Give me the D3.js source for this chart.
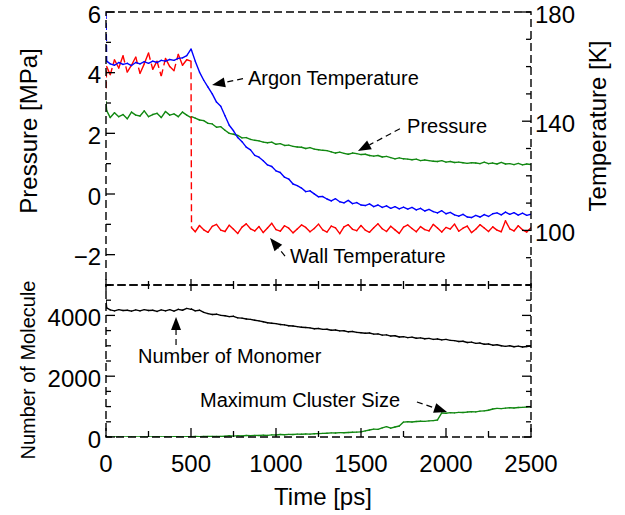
<!DOCTYPE html>
<html>
<head>
<meta charset="utf-8">
<script src="https://cdn.jsdelivr.net/npm/d3@7"></script>
<style>
    body { margin: 0; background: #fff; }
    svg text { font-family: "Liberation Sans", Arial, sans-serif; fill: #000; }
</style>
</head>
<body>
<svg id="chart" width="625" height="515"></svg>
<script>
// time axis [ps]; two extra samples catch the fast jumps at 0 and 500 ps
const timePs = [0, 4, ...d3.range(25, 501, 25), 503, ...d3.range(525, 2501, 25)];

// argon temperature [K] (right axis)
const argonTempK = [180, 162,
    161, 160.5, 161.5, 160.8, 161.2, 160.4, 161.5, 161, 161.8, 161.2,
    162, 161.5, 162.3, 162, 162.6, 162.3, 163, 163.2, 164, 166.4,
    166,
    162, 158, 155, 152.5, 150, 147, 145.5, 142, 138.5, 136.5,
    134, 132.5, 130.5, 129.5, 127.5, 126.8, 125.5, 124, 123.4, 121.8,
    121.2, 119.5, 118.8, 117, 116.4, 115.5, 114.2, 114.5, 113.4, 112.3,
    112.4, 111.5, 110.8, 111.6, 110.5, 110.1, 111, 109.8, 110.2, 109.3,
    109.1, 109.7, 108.7, 109.3, 108.4, 109, 108.1, 108.7, 107.9, 108.5,
    107.8, 108.4, 107.5, 108.1, 107.1, 107.7, 106.9, 106.4, 107.2, 106.1,
    106.6, 105.7, 105.2, 105.9, 104.9, 104.7, 105.5, 104.9, 105.8, 105.1,
    106.1, 106.4, 105.7, 106.7, 105.9, 106.5, 105.6, 106.3, 105.5, 105.9];

// wall temperature [K] (right axis)
const wallTempK = [152, 160,
    157, 162.5, 159.5, 164, 158, 160.5, 163.5, 157.5, 161, 165,
    159, 162, 156.5, 163, 160, 158.5, 164.5, 160.5, 162.5, 162,
    101,
    99.5, 101.8, 100.2, 99.3, 101.5, 102.2, 100.1, 99.6, 101.9, 100.4,
    98.9, 101.2, 102.4, 100.6, 99.8, 101.4, 99.2, 100.9, 102.6, 100.3,
    99.7, 101.7, 100.8, 99.1, 100.5, 102, 101.1, 99.5, 100.7, 102.3,
    100.2, 99.4, 101.6, 100.9, 98.8, 101.3, 102.1, 100.4, 99.9, 101.8,
    100.1, 99.3, 101, 102.4, 100.6, 99.6, 101.5, 100.2, 98.9, 101.2,
    102, 100.7, 99.5, 101.4, 100.3, 99.8, 102.2, 100.9, 99.4, 101.1,
    100.5, 102.3, 99.7, 100.8, 101.6, 99.2, 100.4, 102.1, 100.9, 99.6,
    101.3, 100.1, 99.5, 103.5, 100.6, 99.8, 101.7, 100.2, 99.4, 101];

// pressure [MPa] (left axis)
const pressureMPa = [3.05, 2.75,
    2.52, 2.68, 2.55, 2.62, 2.48, 2.7, 2.6, 2.57, 2.74, 2.55,
    2.62, 2.66, 2.52, 2.72, 2.6, 2.64, 2.55, 2.7, 2.6, 2.52,
    2.55,
    2.5, 2.44, 2.42, 2.33, 2.31, 2.2, 2.22, 2.1, 2.0, 1.97,
    1.93, 1.85, 1.86, 1.8, 1.77, 1.75, 1.71, 1.69, 1.71, 1.64,
    1.66, 1.6, 1.61, 1.57, 1.55, 1.54, 1.5, 1.53, 1.48, 1.46,
    1.44, 1.43, 1.39, 1.35, 1.38, 1.34, 1.31, 1.35, 1.33, 1.3,
    1.31, 1.27, 1.25, 1.27, 1.22, 1.24, 1.2, 1.16, 1.19, 1.16,
    1.15, 1.13, 1.15, 1.1, 1.12, 1.1, 1.08, 1.07, 1.1, 1.05,
    1.07, 1.04, 1.05, 1.03, 1.01, 1.03, 1.02, 1.0, 1.05, 1.0,
    1.02, 0.99, 1.04, 0.99, 1.0, 0.97, 1.01, 0.96, 0.99, 0.97];

// number of monomer (lower panel)
const monomerCount = [4500, 4250,
    4180, 4150, 4190, 4160, 4170, 4140, 4180, 4150, 4190, 4160,
    4170, 4130, 4180, 4150, 4190, 4140, 4200, 4170, 4230, 4200,
    4210,
    4150, 4170, 4100, 4060, 4030, 4040, 4000, 3990, 3960, 3970,
    3920, 3910, 3880, 3870, 3840, 3820, 3790, 3760, 3740, 3730,
    3700, 3690, 3660, 3650, 3630, 3610, 3600, 3590, 3560, 3570,
    3540, 3545, 3510, 3520, 3490, 3495, 3460, 3470, 3440, 3430,
    3415, 3420, 3385, 3390, 3350, 3360, 3320, 3330, 3290, 3300,
    3270, 3285, 3250, 3260, 3230, 3245, 3210, 3225, 3195, 3210,
    3180, 3170, 3140, 3150, 3110, 3120, 3080, 3090, 3050, 3060,
    3020, 3035, 3000, 2980, 3000, 2970, 2990, 2960, 2975, 2990];

// maximum cluster size (lower panel)
const maxClusterSize = [0, 0,
    0, 0, 5, 0, 5, 0, 5, 5, 0, 5,
    5, 10, 5, 10, 5, 10, 10, 5, 10, 10,
    10,
    15, 10, 15, 15, 20, 15, 20, 25, 40, 30,
    45, 35, 50, 45, 55, 50, 60, 55, 70, 65,
    80, 75, 85, 80, 95, 90, 100, 95, 105, 110,
    120, 125, 135, 130, 145, 140, 150, 155, 160, 170,
    200, 230, 260, 250, 300, 340, 290, 330, 360, 490,
    500, 495, 510, 520, 515, 530, 540, 560, 790, 780,
    800, 795, 810, 805, 820, 830, 825, 850, 860, 880,
    920, 940, 935, 950, 960, 955, 970, 975, 985, 990];

const timeTicks = [0, 500, 1000, 1500, 2000, 2500];
const pressureTicks = [-2, 0, 2, 4, 6];
const tempTicks = [100, 140, 180];
const moleculeTicks = [0, 2000, 4000];

// annotations: [label, text time, text value, tail time, tail value, tip time, tip value]
const topNotes = [
    ['Argon Temperature', 835, 153.3, 806, 155.6, 624, 153.3, 'temp'],
    ['Pressure', 1771, 2.02, 1729, 2.15, 1482, 1.42, 'press'],
    ['Wall Temperature', 1082, 88.1, 1053, 90.6, 965, 97.2, 'temp']
];
const bottomNotes = [
    ['Number of Monomer', 188, 2434, 412, 3030, 412, 3950],
    ['Maximum Cluster Size', 553, 987, 1829, 1150, 2006, 822]
];

const svg = d3.select('#chart');
const plotLeft = 106, plotRight = 531, plotTop = 12, plotMid = 285, plotBottom = 437;

const x = d3.scaleLinear().domain([0, 2500]).range([plotLeft, plotRight]);
const yPress = d3.scaleLinear().domain([-3, 6]).range([plotMid, plotTop]);
const yTemp = d3.scaleLinear().domain([80, 180]).range([plotMid, plotTop]);
const yMol = d3.scaleLinear().domain([0, 5000]).range([plotBottom, plotMid]);

const defs = svg.append('defs');
defs.append('clipPath').attr('id', 'clipTop')
    .append('rect').attr('x', plotLeft).attr('y', plotTop)
    .attr('width', plotRight - plotLeft).attr('height', plotMid - plotTop);
defs.append('clipPath').attr('id', 'clipBottom')
    .append('rect').attr('x', plotLeft).attr('y', plotMid)
    .attr('width', plotRight - plotLeft).attr('height', plotBottom - plotMid);

// each segment is its own stroke, so only the long jumps show the dash pattern
function drawSeries(g, values, yScale, color) {
    const pts = timePs.map((t, i) => [x(t), yScale(values[i])]);
    g.selectAll(null)
        .data(d3.pairs(pts))
        .join('line')
        .attr('x1', d => d[0][0]).attr('y1', d => d[0][1])
        .attr('x2', d => d[1][0]).attr('y2', d => d[1][1])
        .attr('stroke', color)
        .attr('stroke-width', 1.4)
        .each(function(d) {
            const len = Math.hypot(d[1][0] - d[0][0], d[1][1] - d[0][1]);
            const sel = d3.select(this);
            if (len > 14) sel.attr('stroke-dasharray', '7,4');
            else sel.attr('stroke-linecap', 'round');
        });
}

const gTop = svg.append('g').attr('clip-path', 'url(#clipTop)');
drawSeries(gTop, pressureMPa, yPress, '#118811');
drawSeries(gTop, wallTempK, yTemp, '#ff0000');
drawSeries(gTop, argonTempK, yTemp, '#0000ff');

const gBottom = svg.append('g').attr('clip-path', 'url(#clipBottom)');
drawSeries(gBottom, monomerCount, yMol, '#000000');
drawSeries(gBottom, maxClusterSize, yMol, '#118811');

// dashed frames
const frame = svg.append('g')
    .attr('fill', 'none')
    .attr('stroke', '#000')
    .attr('stroke-width', 1.4)
    .attr('stroke-dasharray', '8,4');
frame.append('rect').attr('x', plotLeft).attr('y', plotTop)
    .attr('width', plotRight - plotLeft).attr('height', plotMid - plotTop);
frame.append('rect').attr('x', plotLeft).attr('y', plotMid)
    .attr('width', plotRight - plotLeft).attr('height', plotBottom - plotMid);

// ticks, all pointing inward
const ticks = svg.append('g').attr('stroke', '#000').attr('stroke-width', 1.3);
function tick(x1, y1, x2, y2) {
    ticks.append('line').attr('x1', x1).attr('y1', y1).attr('x2', x2).attr('y2', y2);
}
d3.range(0, 2501, 250).forEach(t => {
    const major = t % 500 === 0;
    const px = x(t);
    tick(px, plotBottom, px, plotBottom - (major ? 9 : 6));
    tick(px, plotMid, px, plotMid - (major ? 6 : 4));
    tick(px, plotMid, px, plotMid + (major ? 6 : 4));
});
d3.range(-3, 6.1, 1).forEach(v => {
    tick(plotLeft, yPress(v), plotLeft + (v % 2 === 0 ? 9 : 5), yPress(v));
});
d3.range(80, 181, 10).forEach(v => {
    tick(plotRight, yTemp(v), plotRight - (tempTicks.includes(v) ? 9 : 5), yTemp(v));
});
d3.range(0, 5001, 500).forEach(v => {
    const major = v % 2000 === 0;
    tick(plotLeft, yMol(v), plotLeft + (major ? 9 : 5), yMol(v));
    tick(plotRight, yMol(v), plotRight - (major ? 9 : 5), yMol(v));
});

// tick labels
const fmt = d3.format('d');
const labels = svg.append('g').style('font-size', '24px');
labels.selectAll('.xl').data(timeTicks).join('text')
    .attr('x', d => x(d)).attr('y', 472)
    .attr('text-anchor', 'middle')
    .text(fmt);
labels.selectAll('.pl').data(pressureTicks).join('text')
    .attr('x', 101).attr('y', d => yPress(d)).attr('dy', '0.45em')
    .attr('text-anchor', 'end')
    .text(fmt);
labels.selectAll('.tl').data(tempTicks).join('text')
    .attr('x', 535).attr('y', d => yTemp(d)).attr('dy', '0.45em')
    .text(fmt);
labels.selectAll('.ml').data(moleculeTicks).join('text')
    .attr('x', 101).attr('y', d => yMol(d)).attr('dy', '0.45em')
    .attr('text-anchor', 'end')
    .text(fmt);

// axis titles
svg.append('text').attr('transform', 'translate(37,131) rotate(-90)')
    .attr('text-anchor', 'middle').style('font-size', '24px').text('Pressure [MPa]');
svg.append('text').attr('transform', 'translate(606,126) rotate(-90)')
    .attr('text-anchor', 'middle').style('font-size', '24px').text('Temperature [K]');
svg.append('text').attr('transform', 'translate(35,370) rotate(-90)')
    .attr('text-anchor', 'middle').style('font-size', '20px').text('Number of Molecule');
svg.append('text').attr('x', 323).attr('y', 505)
    .attr('text-anchor', 'middle').style('font-size', '24px').text('Time [ps]');

// annotation arrows
function arrow(tx, ty, hx, hy) {
    const ang = Math.atan2(hy - ty, hx - tx);
    const headLen = 13, halfW = 5;
    const bx = hx - headLen * Math.cos(ang), by = hy - headLen * Math.sin(ang);
    svg.append('line')
        .attr('x1', tx).attr('y1', ty).attr('x2', bx).attr('y2', by)
        .attr('stroke', '#000').attr('stroke-width', 1.2)
        .attr('stroke-dasharray', '6,4');
    const nx = -Math.sin(ang) * halfW, ny = Math.cos(ang) * halfW;
    svg.append('path')
        .attr('d', `M${hx},${hy}L${bx + nx},${by + ny}L${bx - nx},${by - ny}Z`)
        .attr('fill', '#000');
}

topNotes.forEach(([label, lt, lv, at, av, ht, hv, axis]) => {
    const ys = axis === 'temp' ? yTemp : yPress;
    svg.append('text').attr('x', x(lt)).attr('y', ys(lv))
        .style('font-size', '20px').text(label);
    arrow(x(at), ys(av), x(ht), ys(hv));
});
bottomNotes.forEach(([label, lt, lv, at, av, ht, hv]) => {
    svg.append('text').attr('x', x(lt)).attr('y', yMol(lv))
        .style('font-size', '20px').text(label);
    arrow(x(at), yMol(av), x(ht), yMol(hv));
});
</script>
</body>
</html>
